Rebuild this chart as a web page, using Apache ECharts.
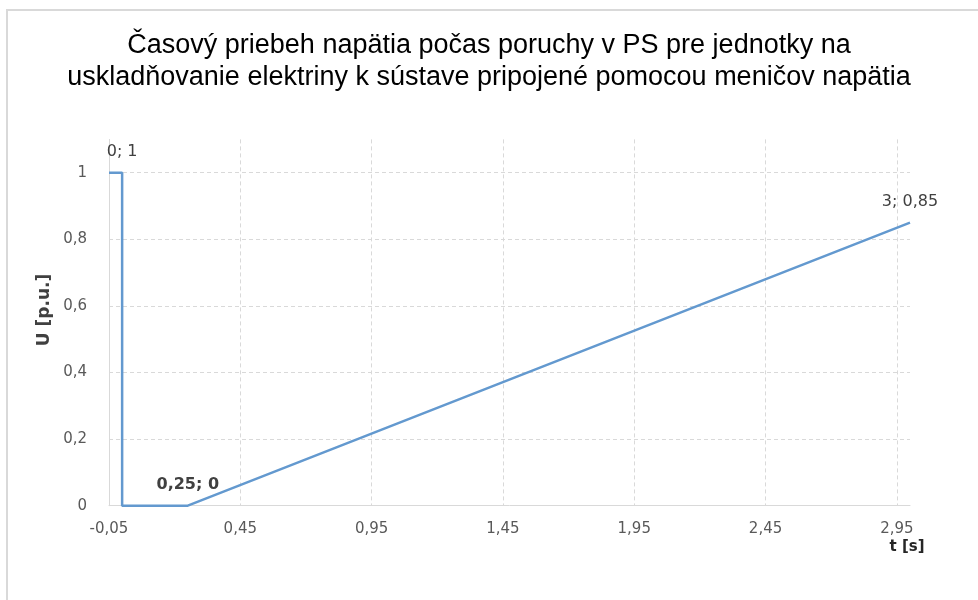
<!DOCTYPE html>
<html>
<head>
<meta charset="utf-8">
<script src="https://cdn.jsdelivr.net/npm/echarts@6/dist/echarts.min.js"></script>
<style>html,body{margin:0;padding:0;background:#fff}#c{width:978px;height:600px}</style>
</head>
<body>
<div id="c"></div>
<script>
var titleLines = ['Časový priebeh napätia počas poruchy v PS pre jednotky na', 'uskladňovanie elektriny k sústave pripojené pomocou meničov napätia'];
var tValues = [-0.05, 0, 0, 0.25, 3];
var uValues = [1, 1, 0, 0, 0.85];
var pointLabels = ['', '0; 1', '', '0,25; 0', '3; 0,85'];
var boldLabels = [false, false, false, true, false];
var xAxisName = 't [s]';
var yAxisName = 'U [p.u.]';

var chart = echarts.init(document.getElementById('c'));
var seriesData = tValues.map(function (t, i) {
  var d = { value: [t, uValues[i]] };
  if (pointLabels[i]) {
    d.label = { show: true, formatter: pointLabels[i], fontWeight: boldLabels[i] ? 'bold' : 'normal' };
  } else {
    d.label = { show: false };
  }
  return d;
});
function comma(v, dec) { return (dec == null ? String(v) : v.toFixed(dec)).replace('.', ','); }

chart.setOption({
  animation: false,
  backgroundColor: '#fff',
  title: {
    text: titleLines.join('\n'),
    left: 'center',
    top: 25,
    textStyle: { fontFamily: 'Liberation Sans', fontSize: 27, fontWeight: 'normal', color: '#000', lineHeight: 32 }
  },
  grid: { left: 109, right: 68, top: 139.4, bottom: 94.3, containLabel: false },
  xAxis: {
    type: 'value', min: -0.05, max: 3.0, interval: 0.5,
    axisLine: { show: true, onZero: false, lineStyle: { color: '#d9d9d9', width: 1 } },
    axisTick: { show: false },
    splitLine: { show: true, showMinLine: false, showMaxLine: false, lineStyle: { color: '#d9d9d9', type: [4, 3], width: 1 } },
    axisLabel: {
      showMaxLabel: false, margin: 16, color: '#595959', fontFamily: 'DejaVu Sans', fontSize: 15,
      formatter: function (v) { return comma(Math.round(v * 100) / 100, 2); }
    }
  },
  yAxis: {
    type: 'value', min: 0, max: 1.1, interval: 0.2,
    axisLine: { show: true, onZero: false, lineStyle: { color: '#d9d9d9', width: 1 } },
    axisTick: { show: false },
    splitLine: { show: true, showMinLine: false, showMaxLine: false, lineStyle: { color: '#d9d9d9', type: [4, 3], width: 1 } },
    axisLabel: {
      showMaxLabel: false, margin: 22, color: '#595959', fontFamily: 'DejaVu Sans', fontSize: 15,
      formatter: function (v) { return comma(Math.round(v * 10) / 10); }
    }
  },
  series: [{
    type: 'line',
    data: seriesData,
    showSymbol: true,
    symbol: 'circle',
    symbolSize: 1,
    itemStyle: { color: 'rgba(0,0,0,0)', borderWidth: 0 },
    lineStyle: { color: '#6399cf', width: 2.5 },
    label: { position: 'top', distance: 12, color: '#404040', fontFamily: 'DejaVu Sans', fontSize: 16 },
    labelLayout: { hideOverlap: false }
  }],
  graphic: [
    { type: 'rect', shape: { x: 7, y: 10, width: 1100, height: 1100 }, style: { fill: 'none', stroke: '#d9d9d9', lineWidth: 2 }, silent: true, z: -1 },
    { type: 'text', x: 907, y: 547, style: { text: xAxisName, font: 'bold 15px "DejaVu Sans"', fill: '#262626', align: 'center', verticalAlign: 'middle' } },
    { type: 'text', x: 45, y: 310, rotation: Math.PI / 2, style: { text: yAxisName, font: 'bold 17px "DejaVu Sans"', fill: '#404040', align: 'center', verticalAlign: 'middle' } }
  ]
});
</script>
</body>
</html>
